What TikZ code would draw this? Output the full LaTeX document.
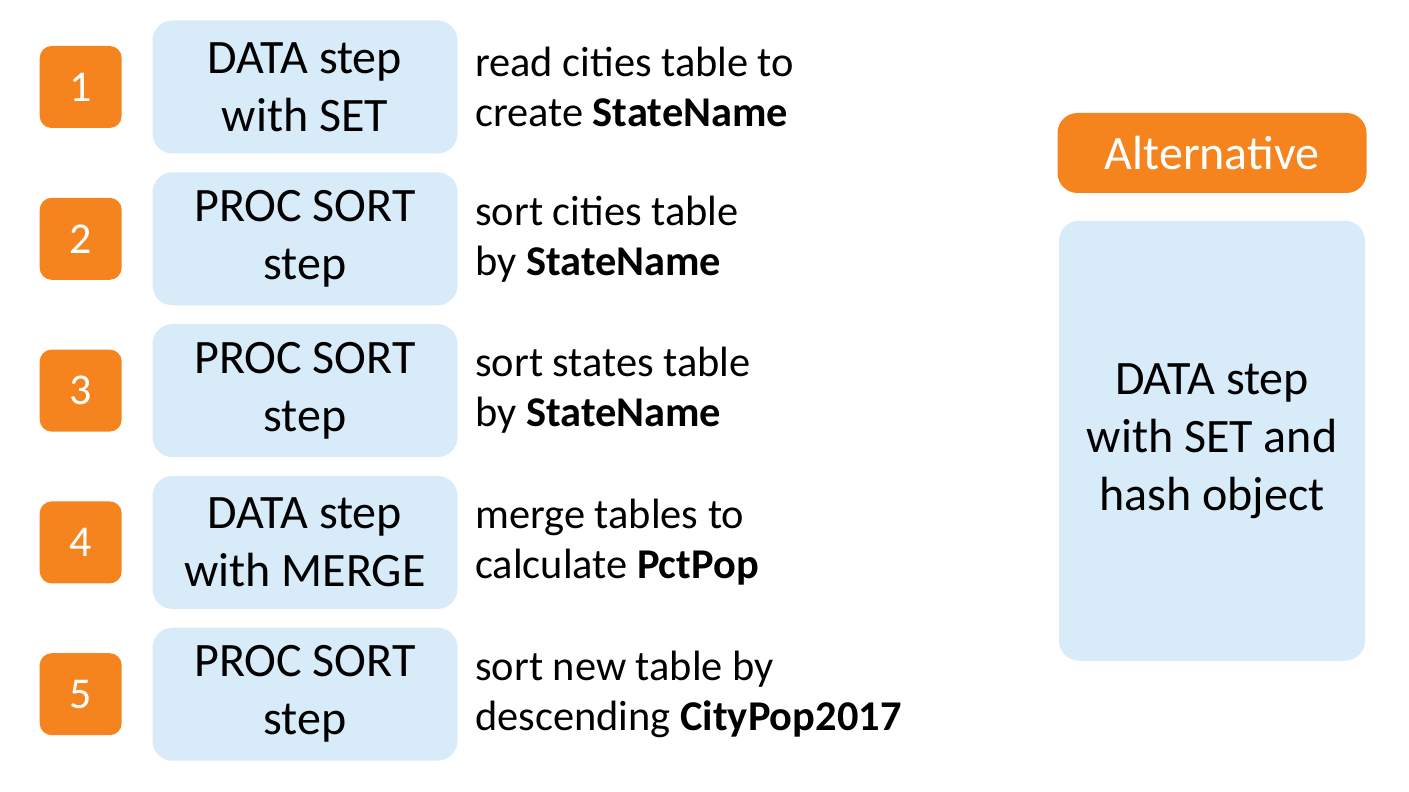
\documentclass[tikz,border=0pt]{standalone}
\usepackage{fontspec}
\setmainfont{Carlito}
\usetikzlibrary{positioning}
\definecolor{steporange}{HTML}{F5841F}
\definecolor{stepblue}{HTML}{D7EBF9}
\tikzset{
  stepbox/.style={fill=stepblue, rounded corners=10pt, minimum width=152.5pt,
    minimum height=66.5pt, align=center, inner sep=0pt,
    font=\fontsize{24}{29}\selectfont},
  numbox/.style={fill=steporange, rounded corners=6pt, minimum size=41pt,
    inner sep=0pt, text=white, font=\fontsize{22}{26}\selectfont},
  desc/.style={anchor=west, align=left, inner sep=0pt,
    font=\fontsize{21.2}{25}\selectfont},
}

\begin{document}
\begin{tikzpicture}[x=0.5pt, y=-0.5pt]
  \useasboundingbox (0,0) rectangle (1409,792);

    % steps
    \node[stepbox] (s1) at (305,87) {DATA step\\with SET};
    \node[stepbox, below=9pt of s1] (s2) {PROC SORT\\step};
    \node[stepbox, below=9pt of s2] (s3) {PROC SORT\\step};
    \node[stepbox, below=9pt of s3] (s4) {DATA step\\with MERGE};
    \node[stepbox, below=9pt of s4] (s5) {PROC SORT\\step};

    % numbers
    \node[numbox, left=15pt of s1] (n1) {1};
    \node[numbox, left=15pt of s2] (n2) {2};
    \node[numbox, left=15pt of s3] (n3) {3};
    \node[numbox, left=15pt of s4] (n4) {4};
    \node[numbox, left=15pt of s5] (n5) {5};

    % descriptions
    \node[desc, right=8.5pt of s1] (d1) {read cities table to\\create \textbf{StateName}};
    \node[desc, right=8.5pt of s2] (d2) {sort cities table\\by \textbf{StateName}};
    \node[desc, right=8.5pt of s3] (d3) {sort states table\\by \textbf{StateName}};
    \node[desc, right=8.5pt of s4] (d4) {merge tables to\\calculate \textbf{PctPop}};
    \node[desc, right=8.5pt of s5] (d5) {sort new table by\\descending \textbf{CityPop2017}};

    % alternative
    \node[numbox, minimum width=154.5pt, minimum height=40pt, rounded corners=10pt,
      font=\fontsize{24}{29}\selectfont] (alt) at (1212,153) {Alternative};
    \node[stepbox, minimum width=153pt, minimum height=220pt, below=13.5pt of alt]
      (hash) {DATA step\\with SET and\\hash object};

  \end{tikzpicture}
\end{document}
